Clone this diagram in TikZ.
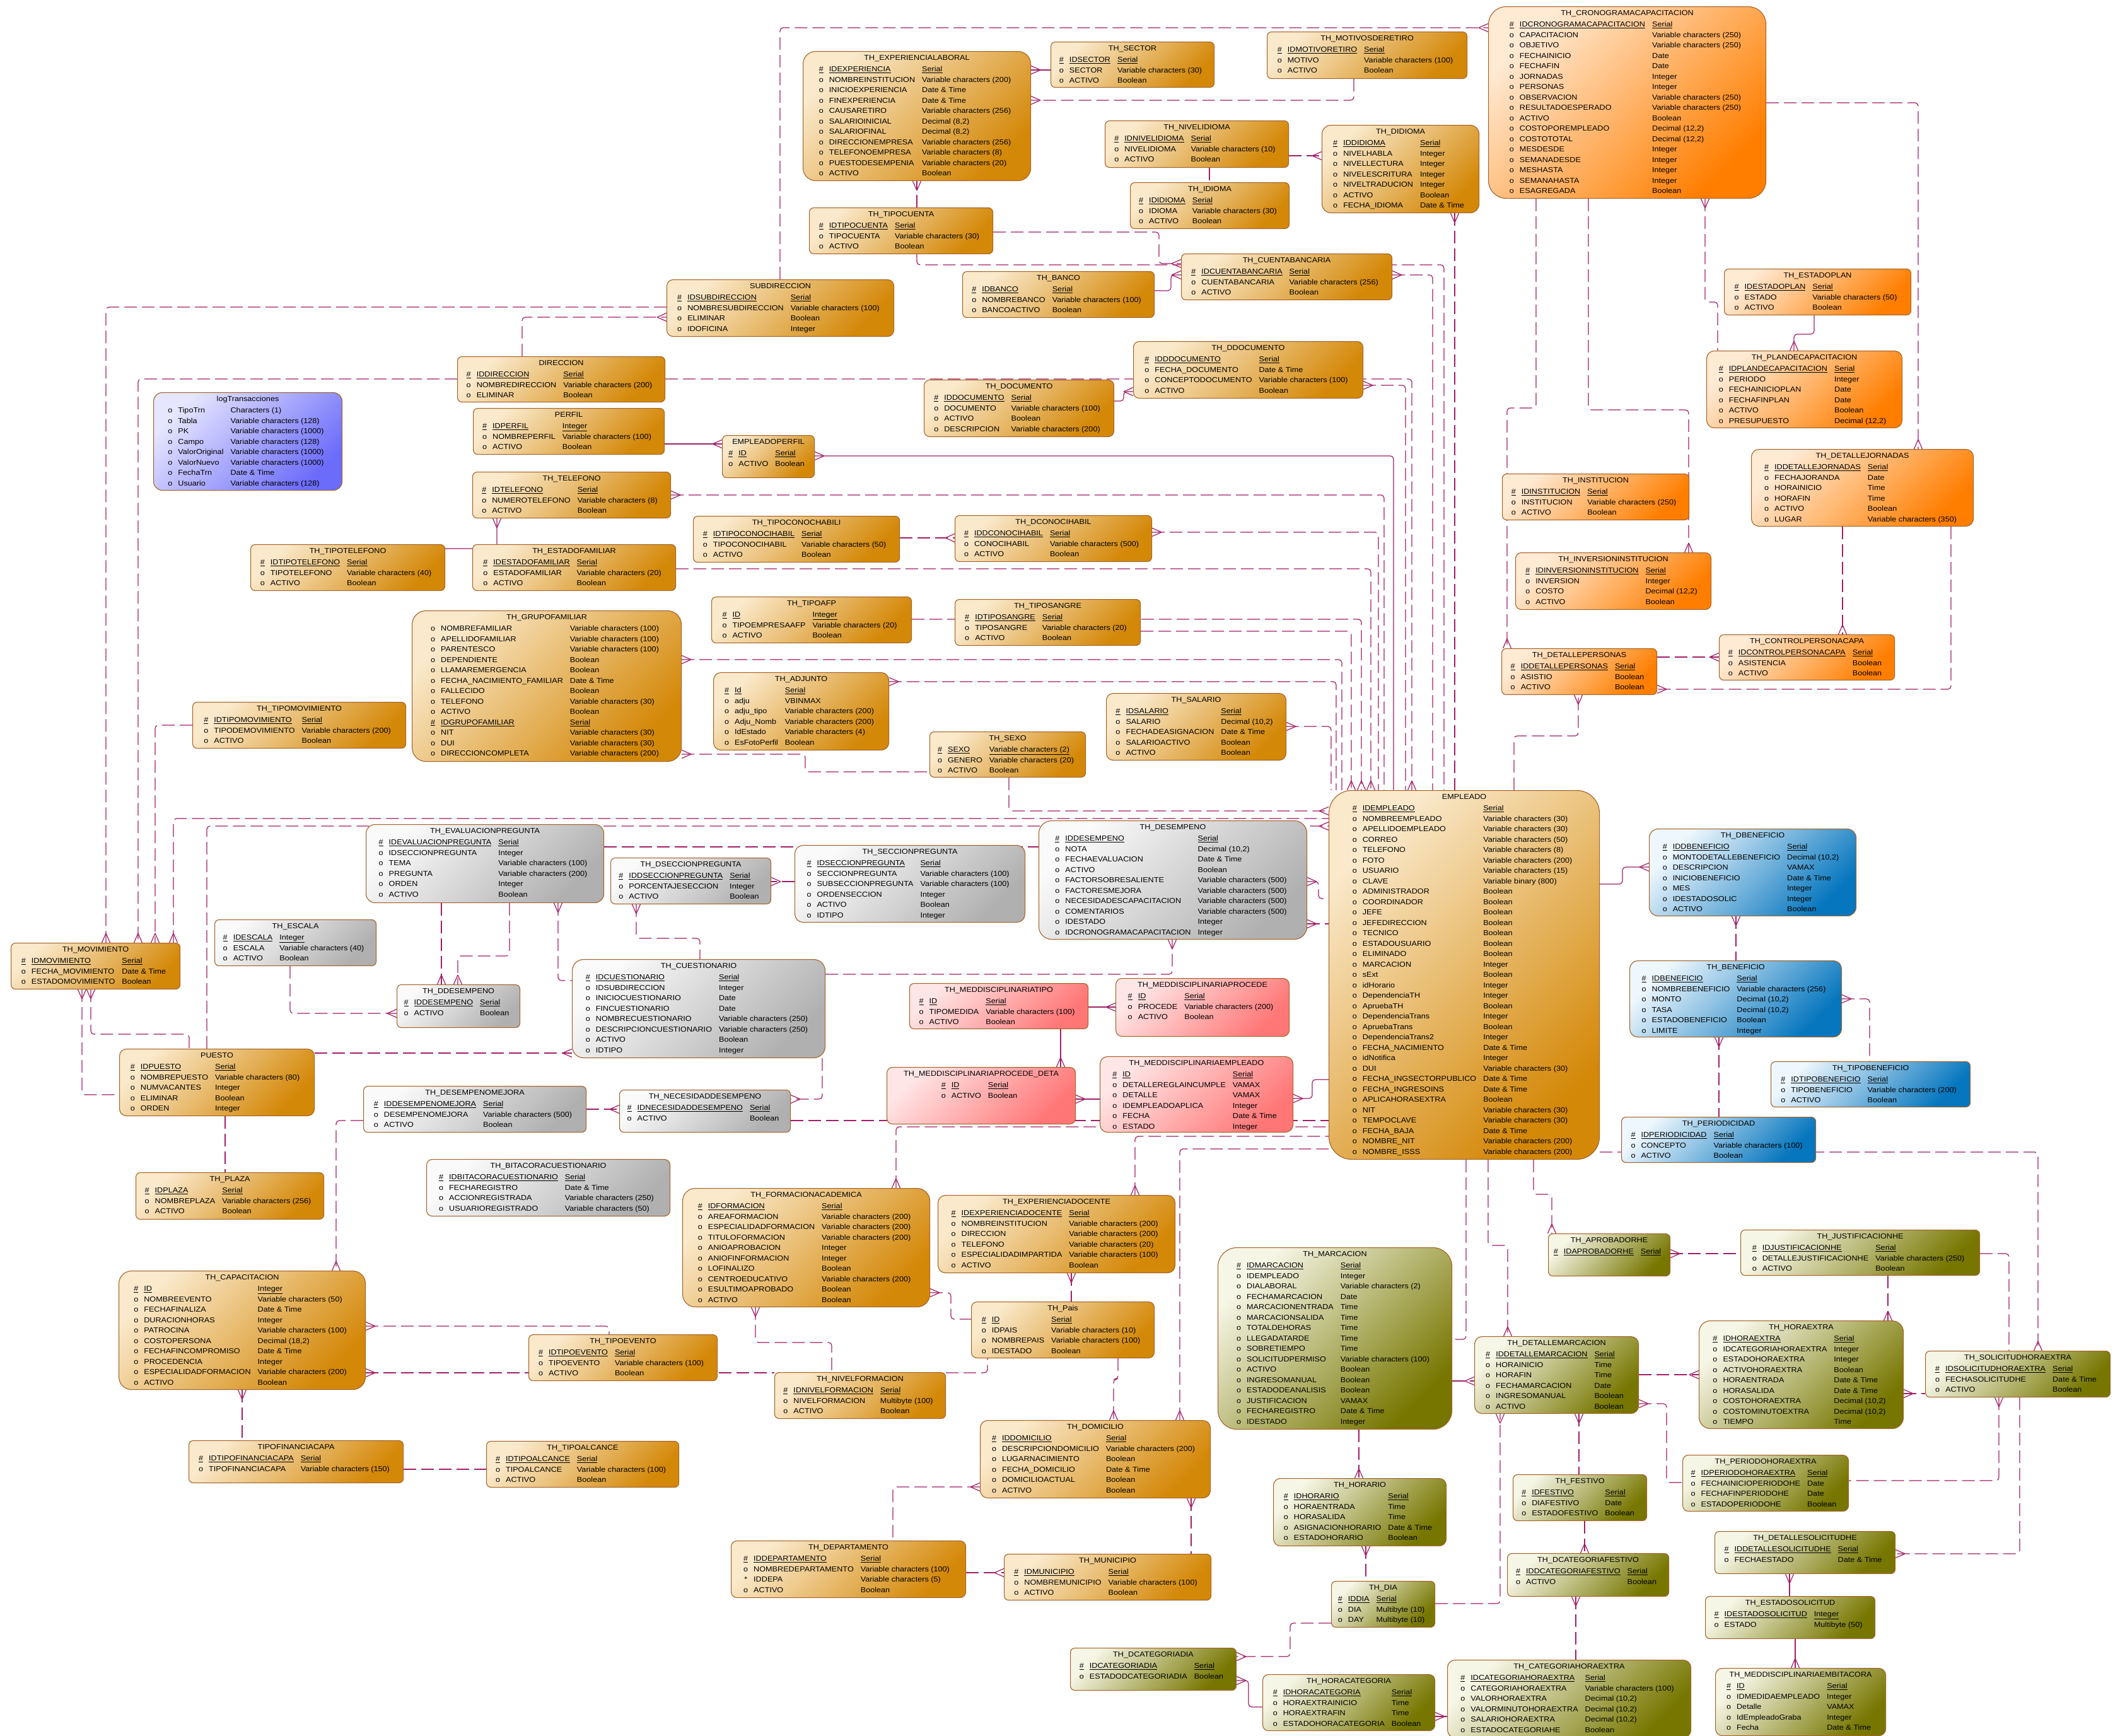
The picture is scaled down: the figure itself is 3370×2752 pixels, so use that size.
\documentclass[tikz,border=0pt]{standalone}
\usepackage{fontspec}
\setmainfont{Liberation Sans}[FakeStretch=1.1]
\usetikzlibrary{decorations.markings}
\pgfdeclarelayer{bg}
\pgfsetlayers{bg,main}

\definecolor{tanA}{RGB}{250,233,203}
\definecolor{tanB}{RGB}{212,136,8}
\definecolor{orA}{RGB}{255,234,212}
\definecolor{orB}{RGB}{255,126,0}
\definecolor{grA}{RGB}{250,250,250}
\definecolor{grB}{RGB}{176,176,176}
\definecolor{pkA}{RGB}{255,230,230}
\definecolor{pkB}{RGB}{255,118,118}
\definecolor{blA}{RGB}{238,247,253}
\definecolor{blB}{RGB}{6,118,190}
\definecolor{olA}{RGB}{246,246,230}
\definecolor{olB}{RGB}{118,118,0}
\definecolor{puA}{RGB}{230,230,255}
\definecolor{puB}{RGB}{108,108,250}
\definecolor{bordc}{RGB}{165,98,40}
\definecolor{relc}{RGB}{160,32,104}

\tikzset{
  entity/.style={draw=bordc,line width=1.1pt,inner sep=0pt,rounded corners=7pt},
  rc/.style={rounded corners=#1pt},
  tanbox/.style={top color=tanA,bottom color=tanB},
  orbox/.style={top color=orA,bottom color=orB},
  graybox/.style={top color=grA,bottom color=grB},
  pinkbox/.style={top color=pkA,bottom color=pkB},
  bluebox/.style={top color=blA,bottom color=blB},
  olivebox/.style={top color=olA,bottom color=olB},
  purpbox/.style={top color=puA,bottom color=puB},
  rel/.style={draw=relc,line width=1.2pt,dash pattern=on 20pt off 8pt,rounded corners=5pt},
  sol/.style={solid},
  cs/.style={postaction={decorate,decoration={markings,mark=at position 0 with
    {\draw[solid,relc,line width=1.2pt,rounded corners=0pt] (15pt,0pt) -- (0pt,6.5pt) (15pt,0pt) -- (0pt,-6.5pt);}}}},
  ce/.style={postaction={decorate,decoration={markings,mark=at position 1 with
    {\draw[solid,relc,line width=1.2pt,rounded corners=0pt] (-15pt,0pt) -- (0pt,6.5pt) (-15pt,0pt) -- (0pt,-6.5pt);}}}},
}

% one table: name, look, x, y, width, height, title, rows
\newcommand\enttbl[8]{%
  \node[entity,#2,shading angle=45,minimum width=#5pt,minimum height=#6pt,anchor=north west] (#1) at (#3,#4) {};
  \node[anchor=base,inner sep=0pt] at ([yshift=-14pt]#1.north) {#7};
  \node[anchor=north,inner sep=0pt] at ([xshift=-3pt,yshift=-21pt]#1.north)
    {\begin{tabular}{@{}c@{\hspace{9pt}}l@{\hspace{11pt}}l@{}}#8\end{tabular}};}
\newcommand\pkR[2]{\underline{\#} & \underline{#1} & \underline{#2}\\}
\newcommand\atR[2]{o & #1 & #2\\}
\newcommand\stR[2]{* & #1 & #2\\}
\newcommand\vcR[1]{Variable characters (#1)}
\newcommand\dtR{Date \& Time}

\begin{document}
\begin{tikzpicture}[x=1pt,y=-1pt,every node/.style={font=\fontsize{11.5}{16.5}\selectfont}]
\useasboundingbox (0,0) rectangle (3370,2752);

% ---------- top band ----------
\enttbl{explab}{tanbox,rc=20}{1273}{81}{361}{205}{TH\_EXPERIENCIALABORAL}{\pkR{IDEXPERIENCIA}{Serial}\atR{NOMBREINSTITUCION}{\vcR{200}}\atR{INICIOEXPERIENCIA}{\dtR}\atR{FINEXPERIENCIA}{\dtR}\atR{CAUSARETIRO}{\vcR{256}}\atR{SALARIOINICIAL}{Decimal (8,2)}\atR{SALARIOFINAL}{Decimal (8,2)}\atR{DIRECCIONEMPRESA}{\vcR{256}}\atR{TELEFONOEMPRESA}{\vcR{8}}\atR{PUESTODESEMPENIA}{\vcR{20}}\atR{ACTIVO}{Boolean}}
\enttbl{sector}{tanbox}{1666}{66}{259}{72}{TH\_SECTOR}{\pkR{IDSECTOR}{Serial}\atR{SECTOR}{\vcR{30}}\atR{ACTIVO}{Boolean}}
\enttbl{motivo}{tanbox}{2009}{50}{317}{74}{TH\_MOTIVOSDERETIRO}{\pkR{IDMOTIVORETIRO}{Serial}\atR{MOTIVO}{\vcR{100}}\atR{ACTIVO}{Boolean}}
\enttbl{crono}{orbox,rc=28}{2360}{10}{440}{304}{TH\_CRONOGRAMACAPACITACION}{\pkR{IDCRONOGRAMACAPACITACION}{Serial}\atR{CAPACITACION}{\vcR{250}}\atR{OBJETIVO}{\vcR{250}}\atR{FECHAINICIO}{Date}\atR{FECHAFIN}{Date}\atR{JORNADAS}{Integer}\atR{PERSONAS}{Integer}\atR{OBSERVACION}{\vcR{250}}\atR{RESULTADOESPERADO}{\vcR{250}}\atR{ACTIVO}{Boolean}\atR{COSTOPOREMPLEADO}{Decimal (12,2)}\atR{COSTOTOTAL}{Decimal (12,2)}\atR{MESDESDE}{Integer}\atR{SEMANADESDE}{Integer}\atR{MESHASTA}{Integer}\atR{SEMANAHASTA}{Integer}\atR{ESAGREGADA}{Boolean}}
\enttbl{tipocuenta}{tanbox}{1283}{329}{291}{73}{TH\_TIPOCUENTA}{\pkR{IDTIPOCUENTA}{Serial}\atR{TIPOCUENTA}{\vcR{30}}\atR{ACTIVO}{Boolean}}
\enttbl{nivelidioma}{tanbox}{1752}{191}{291}{74}{TH\_NIVELIDIOMA}{\pkR{IDNIVELIDIOMA}{Serial}\atR{NIVELIDIOMA}{\vcR{10}}\atR{ACTIVO}{Boolean}}
\enttbl{idioma}{tanbox}{1792}{289}{252}{73}{TH\_IDIOMA}{\pkR{IDIDIOMA}{Serial}\atR{IDIOMA}{\vcR{30}}\atR{ACTIVO}{Boolean}}
\enttbl{didioma}{tanbox,rc=14}{2096}{198}{249}{139}{TH\_DIDIOMA}{\pkR{IDDIDIOMA}{Serial}\atR{NIVELHABLA}{Integer}\atR{NIVELLECTURA}{Integer}\atR{NIVELESCRITURA}{Integer}\atR{NIVELTRADUCION}{Integer}\atR{ACTIVO}{Boolean}\atR{FECHA\_IDIOMA}{\dtR}}
\enttbl{cuentab}{tanbox}{1873}{402}{334}{73}{TH\_CUENTABANCARIA}{\pkR{IDCUENTABANCARIA}{Serial}\atR{CUENTABANCARIA}{\vcR{256}}\atR{ACTIVO}{Boolean}}
\enttbl{banco}{tanbox}{1526}{430}{304}{73}{TH\_BANCO}{\pkR{IDBANCO}{Serial}\atR{NOMBREBANCO}{\vcR{100}}\atR{BANCOACTIVO}{Boolean}}
\enttbl{subdir}{tanbox,rc=10}{1057}{443}{360}{90}{SUBDIRECCION}{\pkR{IDSUBDIRECCION}{Serial}\atR{NOMBRESUBDIRECCION}{\vcR{100}}\atR{ELIMINAR}{Boolean}\atR{IDOFICINA}{Integer}}
\enttbl{direccion}{tanbox}{725}{565}{329}{72}{DIRECCION}{\pkR{IDDIRECCION}{Serial}\atR{NOMBREDIRECCION}{\vcR{200}}\atR{ELIMINAR}{Boolean}}
\enttbl{logtrans}{purpbox,rc=14}{243}{622}{299}{155}{logTransacciones}{\atR{TipoTrn}{Characters (1)}\atR{Tabla}{\vcR{128}}\atR{PK}{\vcR{1000}}\atR{Campo}{\vcR{128}}\atR{ValorOriginal}{\vcR{1000}}\atR{ValorNuevo}{\vcR{1000}}\atR{FechaTrn}{\dtR}\atR{Usuario}{\vcR{128}}}
\enttbl{perfil}{tanbox}{750}{647}{303}{73}{PERFIL}{\pkR{IDPERFIL}{Integer}\atR{NOMBREPERFIL}{\vcR{100}}\atR{ACTIVO}{Boolean}}
\enttbl{documento}{tanbox,rc=9}{1465}{602}{301}{90}{TH\_DOCUMENTO}{\pkR{IDDOCUMENTO}{Serial}\atR{DOCUMENTO}{\vcR{100}}\atR{ACTIVO}{Boolean}\atR{DESCRIPCION}{\vcR{200}}}
\enttbl{ddocumento}{tanbox,rc=9}{1797}{541}{364}{90}{TH\_DDOCUMENTO}{\pkR{IDDDOCUMENTO}{Serial}\atR{FECHA\_DOCUMENTO}{\dtR}\atR{CONCEPTODOCUMENTO}{\vcR{100}}\atR{ACTIVO}{Boolean}}
\enttbl{empperfil}{tanbox}{1145}{690}{146}{67}{EMPLEADOPERFIL}{\pkR{ID}{Serial}\atR{ACTIVO}{Boolean}}
\enttbl{telefono}{tanbox}{749}{748}{314}{73}{TH\_TELEFONO}{\pkR{IDTELEFONO}{Serial}\atR{NUMEROTELEFONO}{\vcR{8}}\atR{ACTIVO}{Boolean}}
\enttbl{tipoconoc}{tanbox}{1099}{818}{327}{73}{TH\_TIPOCONOCHABILI}{\pkR{IDTIPOCONOCIHABIL}{Serial}\atR{TIPOCONOCIHABIL}{\vcR{50}}\atR{ACTIVO}{Boolean}}
\enttbl{dconoc}{tanbox}{1514}{817}{312}{73}{TH\_DCONOCIHABIL}{\pkR{IDDCONOCIHABIL}{Serial}\atR{CONOCIHABIL}{\vcR{500}}\atR{ACTIVO}{Boolean}}
\enttbl{tipotel}{tanbox}{397}{863}{308}{73}{TH\_TIPOTELEFONO}{\pkR{IDTIPOTELEFONO}{Serial}\atR{TIPOTELEFONO}{\vcR{40}}\atR{ACTIVO}{Boolean}}
\enttbl{estadofam}{tanbox}{749}{863}{322}{73}{TH\_ESTADOFAMILIAR}{\pkR{IDESTADOFAMILIAR}{Serial}\atR{ESTADOFAMILIAR}{\vcR{20}}\atR{ACTIVO}{Boolean}}

% ---------- family / personal data ----------
\enttbl{grupofam}{tanbox,rc=22}{653}{968}{427}{239}{TH\_GRUPOFAMILIAR}{\atR{NOMBREFAMILIAR}{\vcR{100}}\atR{APELLIDOFAMILIAR}{\vcR{100}}\atR{PARENTESCO}{\vcR{100}}\atR{DEPENDIENTE}{Boolean}\atR{LLAMAREMERGENCIA}{Boolean}\atR{FECHA\_NACIMIENTO\_FAMILIAR}{\dtR}\atR{FALLECIDO}{Boolean}\atR{TELEFONO}{\vcR{30}}\atR{ACTIVO}{Boolean}\pkR{IDGRUPOFAMILIAR}{Serial}\atR{NIT}{\vcR{30}}\atR{DUI}{\vcR{30}}\atR{DIRECCIONCOMPLETA}{\vcR{200}}}
\enttbl{tipoafp}{tanbox}{1128}{946}{317}{73}{TH\_TIPOAFP}{\pkR{ID}{Integer}\atR{TIPOEMPRESAAFP}{\vcR{20}}\atR{ACTIVO}{Boolean}}
\enttbl{tiposangre}{tanbox}{1514}{950}{294}{73}{TH\_TIPOSANGRE}{\pkR{IDTIPOSANGRE}{Serial}\atR{TIPOSANGRE}{\vcR{20}}\atR{ACTIVO}{Boolean}}
\enttbl{adjunto}{tanbox,rc=12}{1131}{1066}{278}{123}{TH\_ADJUNTO}{\pkR{Id}{Serial}\atR{adju}{VBINMAX}\atR{adju\_tipo}{\vcR{200}}\atR{Adju\_Nomb}{\vcR{200}}\atR{IdEstado}{\vcR{4}}\atR{EsFotoPerfil}{Boolean}}
\enttbl{sexo}{tanbox}{1474}{1160}{247}{72}{TH\_SEXO}{\pkR{SEXO}{\vcR{2}}\atR{GENERO}{\vcR{20}}\atR{ACTIVO}{Boolean}}
\enttbl{salario}{tanbox,rc=11}{1754}{1099}{285}{106}{TH\_SALARIO}{\pkR{IDSALARIO}{Serial}\atR{SALARIO}{Decimal (10,2)}\atR{FECHADEASIGNACION}{\dtR}\atR{SALARIOACTIVO}{Boolean}\atR{ACTIVO}{Boolean}}
\enttbl{tipomov}{tanbox}{305}{1113}{338}{73}{TH\_TIPOMOVIMIENTO}{\pkR{IDTIPOMOVIMIENTO}{Serial}\atR{TIPODEMOVIMIENTO}{\vcR{200}}\atR{ACTIVO}{Boolean}}

% ---------- central employee table ----------
\enttbl{empleado}{tanbox,rc=36}{2107}{1253}{429}{585}{EMPLEADO}{\pkR{IDEMPLEADO}{Serial}\atR{NOMBREEMPLEADO}{\vcR{30}}\atR{APELLIDOEMPLEADO}{\vcR{30}}\atR{CORREO}{\vcR{50}}\atR{TELEFONO}{\vcR{8}}\atR{FOTO}{\vcR{200}}\atR{USUARIO}{\vcR{15}}\atR{CLAVE}{Variable binary (800)}\atR{ADMINISTRADOR}{Boolean}\atR{COORDINADOR}{Boolean}\atR{JEFE}{Boolean}\atR{JEFEDIRECCION}{Boolean}\atR{TECNICO}{Boolean}\atR{ESTADOUSUARIO}{Boolean}\atR{ELIMINADO}{Boolean}\atR{MARCACION}{Integer}\atR{sExt}{Boolean}\atR{idHorario}{Integer}\atR{DependenciaTH}{Integer}\atR{ApruebaTH}{Boolean}\atR{DependenciaTrans}{Integer}\atR{ApruebaTrans}{Boolean}\atR{DependenciaTrans2}{Integer}\atR{FECHA\_NACIMIENTO}{\dtR}\atR{idNotifica}{Integer}\atR{DUI}{\vcR{30}}\atR{FECHA\_INGSECTORPUBLICO}{\dtR}\atR{FECHA\_INGRESOINS}{\dtR}\atR{APLICAHORASEXTRA}{Boolean}\atR{NIT}{\vcR{30}}\atR{TEMPOCLAVE}{\vcR{30}}\atR{FECHA\_BAJA}{\dtR}\atR{NOMBRE\_NIT}{\vcR{200}}\atR{NOMBRE\_ISSS}{\vcR{200}}}

% ---------- evaluation ----------
\enttbl{desempeno}{graybox,rc=20}{1647}{1301}{425}{188}{TH\_DESEMPENO}{\pkR{IDDESEMPENO}{Serial}\atR{NOTA}{Decimal (10,2)}\atR{FECHAEVALUACION}{\dtR}\atR{ACTIVO}{Boolean}\atR{FACTORSOBRESALIENTE}{\vcR{500}}\atR{FACTORESMEJORA}{\vcR{500}}\atR{NECESIDADESCAPACITACION}{\vcR{500}}\atR{COMENTARIOS}{\vcR{500}}\atR{IDESTADO}{Integer}\atR{IDCRONOGRAMACAPACITACION}{Integer}}
\enttbl{evalpreg}{graybox,rc=14}{580}{1307}{377}{124}{TH\_EVALUACIONPREGUNTA}{\pkR{IDEVALUACIONPREGUNTA}{Serial}\atR{IDSECCIONPREGUNTA}{Integer}\atR{TEMA}{\vcR{100}}\atR{PREGUNTA}{\vcR{200}}\atR{ORDEN}{Integer}\atR{ACTIVO}{Boolean}}
\enttbl{dseccion}{graybox}{968}{1360}{254}{73}{TH\_DSECCIONPREGUNTA}{\pkR{IDDSECCIONPREGUNTA}{Serial}\atR{PORCENTAJESECCION}{Integer}\atR{ACTIVO}{Boolean}}
\enttbl{seccion}{graybox,rc=13}{1260}{1340}{365}{122}{TH\_SECCIONPREGUNTA}{\pkR{IDSECCIONPREGUNTA}{Serial}\atR{SECCIONPREGUNTA}{\vcR{100}}\atR{SUBSECCIONPREGUNTA}{\vcR{100}}\atR{ORDENSECCION}{Integer}\atR{ACTIVO}{Boolean}\atR{IDTIPO}{Integer}}
\enttbl{movimiento}{tanbox}{17}{1495}{268}{73}{TH\_MOVIMIENTO}{\pkR{IDMOVIMIENTO}{Serial}\atR{FECHA\_MOVIMIENTO}{\dtR}\atR{ESTADOMOVIMIENTO}{Boolean}}
\enttbl{escala}{graybox}{340}{1458}{256}{73}{TH\_ESCALA}{\pkR{IDESCALA}{Integer}\atR{ESCALA}{\vcR{40}}\atR{ACTIVO}{Boolean}}
\enttbl{ddesempeno}{graybox}{629}{1561}{195}{68}{TH\_DDESEMPENO}{\pkR{IDDESEMPENO}{Serial}\atR{ACTIVO}{Boolean}}
\enttbl{cuestionario}{graybox,rc=18}{907}{1521}{401}{156}{TH\_CUESTIONARIO}{\pkR{IDCUESTIONARIO}{Serial}\atR{IDSUBDIRECCION}{Integer}\atR{INICIOCUESTIONARIO}{Date}\atR{FINCUESTIONARIO}{Date}\atR{NOMBRECUESTIONARIO}{\vcR{250}}\atR{DESCRIPCIONCUESTIONARIO}{\vcR{250}}\atR{ACTIVO}{Boolean}\atR{IDTIPO}{Integer}}
\enttbl{medtipo}{pinkbox}{1442}{1559}{283}{72}{TH\_MEDDISCIPLINARIATIPO}{\pkR{ID}{Serial}\atR{TIPOMEDIDA}{\vcR{100}}\atR{ACTIVO}{Boolean}}
\enttbl{procede}{pinkbox,rc=10}{1769}{1551}{275}{92}{TH\_MEDDISCIPLINARIAPROCEDE}{\pkR{ID}{Serial}\atR{PROCEDE}{\vcR{200}}\atR{ACTIVO}{Boolean}}
\enttbl{procdeta}{pinkbox,rc=9}{1406}{1692}{299}{90}{TH\_MEDDISCIPLINARIAPROCEDE\_DETA}{\pkR{ID}{Serial}\atR{ACTIVO}{Boolean}}
\enttbl{medemp}{pinkbox,rc=12}{1744}{1675}{306}{120}{TH\_MEDDISCIPLINARIAEMPLEADO}{\pkR{ID}{Serial}\atR{DETALLEREGLAINCUMPLE}{VAMAX}\atR{DETALLE}{VAMAX}\atR{IDEMPLEADOAPLICA}{Integer}\atR{FECHA}{\dtR}\atR{ESTADO}{Integer}}
\enttbl{puesto}{tanbox,rc=11}{189}{1663}{309}{106}{PUESTO}{\pkR{IDPUESTO}{Serial}\atR{NOMBREPUESTO}{\vcR{80}}\atR{NUMVACANTES}{Integer}\atR{ELIMINAR}{Boolean}\atR{ORDEN}{Integer}}
\enttbl{desmejora}{graybox}{576}{1722}{353}{73}{TH\_DESEMPENOMEJORA}{\pkR{IDDESEMPENOMEJORA}{Serial}\atR{DESEMPENOMEJORA}{\vcR{500}}\atR{ACTIVO}{Boolean}}
\enttbl{necesidad}{graybox}{982}{1728}{271}{67}{TH\_NECESIDADDESEMPENO}{\pkR{IDNECESIDADDESEMPENO}{Serial}\atR{ACTIVO}{Boolean}}
\enttbl{plaza}{tanbox}{215}{1859}{298}{74}{TH\_PLAZA}{\pkR{IDPLAZA}{Serial}\atR{NOMBREPLAZA}{\vcR{256}}\atR{ACTIVO}{Boolean}}
\enttbl{bitacora}{graybox,rc=9}{676}{1838}{386}{90}{TH\_BITACORACUESTIONARIO}{\pkR{IDBITACORACUESTIONARIO}{Serial}\atR{FECHAREGISTRO}{\dtR}\atR{ACCIONREGISTRADA}{\vcR{250}}\atR{USUARIOREGISTRADO}{\vcR{50}}}

% ---------- training / education ----------
\enttbl{capacitacion}{tanbox,rc=20}{188}{2015}{391}{188}{TH\_CAPACITACION}{\pkR{ID}{Integer}\atR{NOMBREEVENTO}{\vcR{50}}\atR{FECHAFINALIZA}{\dtR}\atR{DURACIONHORAS}{Integer}\atR{PATROCINA}{\vcR{100}}\atR{COSTOPERSONA}{Decimal (18,2)}\atR{FECHAFINCOMPROMISO}{\dtR}\atR{PROCEDENCIA}{Integer}\atR{ESPECIALIDADFORMACION}{\vcR{200}}\atR{ACTIVO}{Boolean}}
\enttbl{tipofin}{tanbox}{299}{2284}{340}{67}{TIPOFINANCIACAPA}{\pkR{IDTIPOFINANCIACAPA}{Serial}\atR{TIPOFINANCIACAPA}{\vcR{150}}}
\enttbl{tipoalcance}{tanbox}{771}{2285}{305}{73}{TH\_TIPOALCANCE}{\pkR{IDTIPOALCANCE}{Serial}\atR{TIPOALCANCE}{\vcR{100}}\atR{ACTIVO}{Boolean}}
\enttbl{formacion}{tanbox,rc=20}{1082}{1884}{392}{188}{TH\_FORMACIONACADEMICA}{\pkR{IDFORMACION}{Serial}\atR{AREAFORMACION}{\vcR{200}}\atR{ESPECIALIDADFORMACION}{\vcR{200}}\atR{TITULOFORMACION}{\vcR{200}}\atR{ANIOAPROBACION}{Integer}\atR{ANIOFINFORMACION}{Integer}\atR{LOFINALIZO}{Boolean}\atR{CENTROEDUCATIVO}{\vcR{200}}\atR{ESULTIMOAPROBADO}{Boolean}\atR{ACTIVO}{Boolean}}
\enttbl{expdocente}{tanbox,rc=12}{1487}{1895}{376}{123}{TH\_EXPERIENCIADOCENTE}{\pkR{IDEXPERIENCIADOCENTE}{Serial}\atR{NOMBREINSTITUCION}{\vcR{200}}\atR{DIRECCION}{\vcR{200}}\atR{TELEFONO}{\vcR{20}}\atR{ESPECIALIDADIMPARTIDA}{\vcR{100}}\atR{ACTIVO}{Boolean}}
\enttbl{tipoevento}{tanbox}{838}{2116}{299}{73}{TH\_TIPOEVENTO}{\pkR{IDTIPOEVENTO}{Serial}\atR{TIPOEVENTO}{\vcR{100}}\atR{ACTIVO}{Boolean}}
\enttbl{pais}{tanbox,rc=9}{1540}{2064}{290}{89}{TH\_Pais}{\pkR{ID}{Serial}\atR{IDPAIS}{\vcR{10}}\atR{NOMBREPAIS}{\vcR{100}}\atR{IDESTADO}{Boolean}}
\enttbl{nivelform}{tanbox}{1228}{2176}{271}{73}{TH\_NIVELFORMACION}{\pkR{IDNIVELFORMACION}{Serial}\atR{NIVELFORMACION}{Multibyte (100)}\atR{ACTIVO}{Boolean}}
\enttbl{domicilio}{tanbox,rc=12}{1554}{2252}{365}{123}{TH\_DOMICILIO}{\pkR{IDDOMICILIO}{Serial}\atR{DESCRIPCIONDOMICILIO}{\vcR{200}}\atR{LUGARNACIMIENTO}{Boolean}\atR{FECHA\_DOMICILIO}{\dtR}\atR{DOMICILIOACTUAL}{Boolean}\atR{ACTIVO}{Boolean}}
\enttbl{departamento}{tanbox,rc=9}{1159}{2443}{372}{90}{TH\_DEPARTAMENTO}{\pkR{IDDEPARTAMENTO}{Serial}\atR{NOMBREDEPARTAMENTO}{\vcR{100}}\stR{IDDEPA}{\vcR{5}}\atR{ACTIVO}{Boolean}}
\enttbl{municipio}{tanbox}{1592}{2464}{328}{73}{TH\_MUNICIPIO}{\pkR{IDMUNICIPIO}{Serial}\atR{NOMBREMUNICIPIO}{\vcR{100}}\atR{ACTIVO}{Boolean}}

% ---------- attendance / overtime ----------
\enttbl{marcacion}{olivebox,rc=30}{1931}{1978}{371}{288}{TH\_MARCACION}{\pkR{IDMARCACION}{Serial}\atR{IDEMPLEADO}{Integer}\atR{DIALABORAL}{\vcR{2}}\atR{FECHAMARCACION}{Date}\atR{MARCACIONENTRADA}{Time}\atR{MARCACIONSALIDA}{Time}\atR{TOTALDEHORAS}{Time}\atR{LLEGADATARDE}{Time}\atR{SOBRETIEMPO}{Time}\atR{SOLICITUDPERMISO}{\vcR{100}}\atR{ACTIVO}{Boolean}\atR{INGRESOMANUAL}{Boolean}\atR{ESTADODEANALISIS}{Boolean}\atR{JUSTIFICACION}{VAMAX}\atR{FECHAREGISTRO}{\dtR}\atR{IDESTADO}{Integer}}
\enttbl{horario}{olivebox,rc=11}{2019}{2344}{274}{107}{TH\_HORARIO}{\pkR{IDHORARIO}{Serial}\atR{HORAENTRADA}{Time}\atR{HORASALIDA}{Time}\atR{ASIGNACIONHORARIO}{\dtR}\atR{ESTADOHORARIO}{Boolean}}
\enttbl{dia}{olivebox}{2111}{2507}{164}{73}{TH\_DIA}{\pkR{IDDIA}{Serial}\atR{DIA}{Multibyte (10)}\atR{DAY}{Multibyte (10)}}
\enttbl{dcatdia}{olivebox}{1697}{2613}{263}{67}{TH\_DCATEGORIADIA}{\pkR{IDCATEGORIADIA}{Serial}\atR{ESTADODCATEGORIADIA}{Boolean}}
\enttbl{horacat}{olivebox,rc=9}{2002}{2655}{273}{89}{TH\_HORACATEGORIA}{\pkR{IDHORACATEGORIA}{Serial}\atR{HORAEXTRAINICIO}{Time}\atR{HORAEXTRAFIN}{Time}\atR{ESTADOHORACATEGORIA}{Boolean}}
\enttbl{cathe}{olivebox,rc=12}{2295}{2632}{386}{123}{TH\_CATEGORIAHORAEXTRA}{\pkR{IDCATEGORIAHORAEXTRA}{Serial}\atR{CATEGORIAHORAEXTRA}{\vcR{100}}\atR{VALORHORAEXTRA}{Decimal (10,2)}\atR{VALORMINUTOHORAEXTRA}{Decimal (10,2)}\atR{SALARIOHORAEXTRA}{Decimal (10,2)}\atR{ESTADOCATEGORIAHE}{Boolean}}
\enttbl{detmarc}{olivebox,rc=12}{2338}{2119}{260}{122}{TH\_DETALLEMARCACION}{\pkR{IDDETALLEMARCACION}{Serial}\atR{HORAINICIO}{Time}\atR{HORAFIN}{Time}\atR{FECHAMARCACION}{Date}\atR{INGRESOMANUAL}{Boolean}\atR{ACTIVO}{Boolean}}
\enttbl{aprobador}{olivebox}{2455}{1956}{193}{67}{TH\_APROBADORHE}{\pkR{IDAPROBADORHE}{Serial}}
\enttbl{festivo}{olivebox}{2399}{2338}{212}{73}{TH\_FESTIVO}{\pkR{IDFESTIVO}{Serial}\atR{DIAFESTIVO}{Date}\atR{ESTADOFESTIVO}{Boolean}}
\enttbl{dcatfest}{olivebox}{2390}{2463}{256}{68}{TH\_DCATEGORIAFESTIVO}{\pkR{IDDCATEGORIAFESTIVO}{Serial}\atR{ACTIVO}{Boolean}}
\enttbl{justif}{olivebox}{2760}{1950}{379}{72}{TH\_JUSTIFICACIONHE}{\pkR{IDJUSTIFICACIONHE}{Serial}\atR{DETALLEJUSTIFICACIONHE}{\vcR{250}}\atR{ACTIVO}{Boolean}}
\enttbl{horaextra}{olivebox,rc=18}{2694}{2094}{324}{171}{TH\_HORAEXTRA}{\pkR{IDHORAEXTRA}{Serial}\atR{IDCATEGORIAHORAEXTRA}{Integer}\atR{ESTADOHORAEXTRA}{Integer}\atR{ACTIVOHORAEXTRA}{Boolean}\atR{HORAENTRADA}{\dtR}\atR{HORASALIDA}{\dtR}\atR{COSTOHORAEXTRA}{Decimal (10,2)}\atR{COSTOMINUTOEXTRA}{Decimal (10,2)}\atR{TIEMPO}{Time}}
\enttbl{solicitud}{olivebox}{3053}{2142}{293}{73}{TH\_SOLICITUDHORAEXTRA}{\pkR{IDSOLICITUDHORAEXTRA}{Serial}\atR{FECHASOLICITUDHE}{\dtR}\atR{ACTIVO}{Boolean}}
\enttbl{periodohe}{olivebox,rc=9}{2668}{2307}{263}{89}{TH\_PERIODOHORAEXTRA}{\pkR{IDPERIODOHORAEXTRA}{Serial}\atR{FECHAINICIOPERIODOHE}{Date}\atR{FECHAFINPERIODOHE}{Date}\atR{ESTADOPERIODOHE}{Boolean}}
\enttbl{detsol}{olivebox}{2719}{2428}{286}{67}{TH\_DETALLESOLICITUDHE}{\pkR{IDDETALLESOLICITUDHE}{Serial}\atR{FECHAESTADO}{\dtR}}
\enttbl{estadosol}{olivebox}{2704}{2531}{269}{67}{TH\_ESTADOSOLICITUD}{\pkR{IDESTADOSOLICITUD}{Integer}\atR{ESTADO}{Multibyte (50)}}
\enttbl{medbitacora}{olivebox,rc=11}{2720}{2645}{270}{107}{TH\_MEDDISCIPLINARIAEMBITACORA}{\pkR{ID}{Serial}\atR{IDMEDIDAEMPLEADO}{Integer}\atR{Detalle}{VAMAX}\atR{IdEmpleadoGraba}{Integer}\atR{Fecha}{\dtR}}

% ---------- benefits ----------
\enttbl{dbeneficio}{bluebox,rc=14}{2615}{1314}{328}{138}{TH\_DBENEFICIO}{\pkR{IDDBENEFICIO}{Serial}\atR{MONTODETALLEBENEFICIO}{Decimal (10,2)}\atR{DESCRIPCION}{VAMAX}\atR{INICIOBENEFICIO}{\dtR}\atR{MES}{Integer}\atR{IDESTADOSOLIC}{Integer}\atR{ACTIVO}{Boolean}}
\enttbl{beneficio}{bluebox,rc=13}{2584}{1523}{336}{121}{TH\_BENEFICIO}{\pkR{IDBENEFICIO}{Serial}\atR{NOMBREBENEFICIO}{\vcR{256}}\atR{MONTO}{Decimal (10,2)}\atR{TASA}{Decimal (10,2)}\atR{ESTADOBENEFICIO}{Boolean}\atR{LIMITE}{Integer}}
\enttbl{tipobeneficio}{bluebox}{2808}{1683}{316}{72}{TH\_TIPOBENEFICIO}{\pkR{IDTIPOBENEFICIO}{Serial}\atR{TIPOBENEFICIO}{\vcR{200}}\atR{ACTIVO}{Boolean}}
\enttbl{periodicidad}{bluebox}{2571}{1771}{308}{72}{TH\_PERIODICIDAD}{\pkR{IDPERIODICIDAD}{Serial}\atR{CONCEPTO}{\vcR{100}}\atR{ACTIVO}{Boolean}}

% ---------- training plan ----------
\enttbl{estadoplan}{orbox}{2734}{426}{296}{73}{TH\_ESTADOPLAN}{\pkR{IDESTADOPLAN}{Serial}\atR{ESTADO}{\vcR{50}}\atR{ACTIVO}{Boolean}}
\enttbl{plancap}{orbox,rc=12}{2706}{556}{310}{122}{TH\_PLANDECAPACITACION}{\pkR{IDPLANDECAPACITACION}{Serial}\atR{PERIODO}{Integer}\atR{FECHAINICIOPLAN}{Date}\atR{FECHAFINPLAN}{Date}\atR{ACTIVO}{Boolean}\atR{PRESUPUESTO}{Decimal (12,2)}}
\enttbl{detjornadas}{orbox,rc=12}{2777}{712}{352}{122}{TH\_DETALLEJORNADAS}{\pkR{IDDETALLEJORNADAS}{Serial}\atR{FECHAJORANDA}{Date}\atR{HORAINICIO}{Time}\atR{HORAFIN}{Time}\atR{ACTIVO}{Boolean}\atR{LUGAR}{\vcR{350}}}
\enttbl{institucion}{orbox}{2382}{751}{296}{73}{TH\_INSTITUCION}{\pkR{IDINSTITUCION}{Serial}\atR{INSTITUCION}{\vcR{250}}\atR{ACTIVO}{Boolean}}
\enttbl{inversion}{orbox,rc=9}{2403}{876}{310}{90}{TH\_INVERSIONINSTITUCION}{\pkR{IDINVERSIONINSTITUCION}{Serial}\atR{INVERSION}{Integer}\atR{COSTO}{Decimal (12,2)}\atR{ACTIVO}{Boolean}}
\enttbl{detpersonas}{orbox}{2381}{1028}{246}{73}{TH\_DETALLEPERSONAS}{\pkR{IDDETALLEPERSONAS}{Serial}\atR{ASISTIO}{Boolean}\atR{ACTIVO}{Boolean}}
\enttbl{controlpers}{orbox}{2726}{1006}{278}{72}{TH\_CONTROLPERSONACAPA}{\pkR{IDCONTROLPERSONACAPA}{Serial}\atR{ASISTENCIA}{Boolean}\atR{ACTIVO}{Boolean}}

% ---------- relationships (behind the tables) ----------
\begin{pgfonlayer}{bg}
\fill[white] (0,0) rectangle (3370,2752);
% upper area
\draw[rel,ce] (1237,0 |- subdir.north) -- (1237,44) -- (crono.west |- 0,44);
\draw[rel,ce] (subdir.west |- 0,487) -- (168,487) -- (168,0 |- movimiento.north);
\draw[rel,ce] (direccion.west |- 0,601) -- (219,601) -- (219,0 |- movimiento.north);
\draw[rel,ce] (828,0 |- direccion.north) -- (828,503) -- (subdir.west |- 0,503);
\draw[rel,ce] (direccion.east |- 0,601) -- (2239,601) -- (2239,0 |- empleado.north);
\draw[rel,sol,cs] (explab.east |- 0,111) -- (sector.west |- 0,111);
\draw[rel,ce] (2147,0 |- motivo.south) -- (2147,159) -- (explab.east |- 0,159);
\draw[rel,ce] (1454,0 |- tipocuenta.north) -- (1454,0 |- explab.south);
\draw[rel,ce] (tipocuenta.east |- 0,368) -- (1838,368) -- (1838,418) -- (cuentab.west |- 0,418);
\draw[rel,sol,ce] (banco.east |- 0,461) -- (1857,461) -- (1857,436) -- (cuentab.west |- 0,436);
\draw[rel,ce] (nivelidioma.east |- 0,247) -- (didioma.west |- 0,247);
\draw[rel] (1918,0 |- nivelidioma.south) -- (1918,0 |- idioma.north);
\draw[rel,cs] (2307,0 |- didioma.south) -- (2307,0 |- empleado.north);
\draw[rel] (1454,0 |- tipocuenta.south) -- (1454,420) -- (2290,420) -- (2290,0 |- empleado.north);
\draw[rel,cs] (cuentab.east |- 0,436) -- (2272,436) -- (2272,0 |- empleado.north);
\draw[rel,cs] (ddocumento.east |- 0,611) -- (2229,611) -- (2229,0 |- empleado.north);
\draw[rel,sol,ce] (documento.east |- 0,636) -- (1782,636) -- (1782,621) -- (ddocumento.west |- 0,621);
\draw[rel,sol,ce] (perfil.east |- 0,704) -- (empperfil.west |- 0,704);
\draw[rel,sol,cs] (empperfil.east |- 0,723) -- (2210,723) -- (2210,0 |- empleado.north);
\draw[rel,cs] (telefono.east |- 0,785) -- (2195,785) -- (2195,0 |- empleado.north);
\draw[rel,sol,ce] (tipotel.east |- 0,870) -- (788,870) -- (788,0 |- telefono.south);
\draw[rel,ce] (tipoconoc.east |- 0,853) -- (dconoc.west |- 0,853);
\draw[rel,cs] (dconoc.east |- 0,844) -- (2186,844) -- (2186,0 |- empleado.north);
\draw[rel,ce] (estadofam.east |- 0,902) -- (2174,902) -- (2174,0 |- empleado.north);
\draw[rel,cs] (grupofam.east |- 0,1046) -- (2128,1046) -- (2128,0 |- empleado.north);
\draw[rel,ce] (tipoafp.east |- 0,982) -- (2159,982) -- (2159,0 |- empleado.north);
\draw[rel,ce] (tiposangre.east |- 0,1001) -- (2143,1001) -- (2143,0 |- empleado.north);
\draw[rel,cs] (adjunto.east |- 0,1081) -- (2119,1081) -- (2119,0 |- empleado.north);
\draw[rel,cs] (grupofam.east |- 0,1196) -- (1277,1196) -- (1277,1224) -- (sexo.west |- 0,1224);
\draw[rel,ce] (1600,0 |- sexo.south) -- (1600,1286) -- (empleado.west |- 0,1286);
\draw[rel,cs] (salario.east |- 0,1152) -- (2111,1152) -- (2111,0 |- empleado.north);
% left / evaluation area
\draw[rel,cs] (275,0 |- movimiento.north) -- (275,1298) -- (empleado.west |- 0,1298);
\draw[rel,ce] (328,0 |- puesto.north) -- (328,1310) -- (empleado.west |- 0,1310);
\draw[rel,ce] (tipomov.west |- 0,1150) -- (246,1150) -- (246,0 |- movimiento.north);
\draw[rel,cs] (130,0 |- movimiento.south) -- (130,1736) -- (puesto.west |- 0,1736);
\draw[rel,cs] (144,0 |- movimiento.south) -- (144,1640) -- (300,1640) -- (300,0 |- puesto.north);
\draw[rel,ce] (700,0 |- evalpreg.south) -- (700,0 |- ddesempeno.north);
\draw[rel,ce] (808,0 |- evalpreg.south) -- (808,1516) -- (726,1516) -- (726,0 |- ddesempeno.north);
\draw[rel,ce] (460,0 |- escala.south) -- (460,1607) -- (ddesempeno.west |- 0,1607);
\draw[rel,cs] (885,0 |- evalpreg.south) -- (885,1555) -- (cuestionario.west |- 0,1555);
\draw[rel,cs] (1009,0 |- dseccion.south) -- (1009,1488) -- (1110,1488) -- (1110,0 |- cuestionario.north);
\draw[rel,ce] (seccion.west |- 0,1398) -- (dseccion.east |- 0,1398);
\draw[rel] (evalpreg.east |- 0,1343) -- (desempeno.west |- 0,1343);
\draw[rel,cs] (desempeno.east |- 0,1398) -- (2091,1398) -- (2091,1425) -- (empleado.west |- 0,1425);
\draw[rel,cs] (desempeno.east |- 0,1465) -- (empleado.west |- 0,1465);
\draw[rel,ce] (cuestionario.east |- 0,1545) -- (1859,1545) -- (1859,0 |- desempeno.south);
\draw[rel,ce] (1304,0 |- cuestionario.south) -- (1304,1743) -- (necesidad.east |- 0,1743);
\draw[rel,ce] (desmejora.east |- 0,1759) -- (necesidad.west |- 0,1759);
\draw[rel,ce] (puesto.east |- 0,1670) -- (cuestionario.west |- 0,1670);
\draw[rel] (357,0 |- puesto.south) -- (357,0 |- plaza.north);
\draw[rel,ce] (desmejora.west |- 0,1777) -- (533,1777) -- (533,0 |- capacitacion.north);
\draw[rel] (necesidad.east |- 0,1777) -- (empleado.west |- 0,1777);
\draw[rel,cs] (1421,0 |- formacion.north) -- (1421,1787) -- (empleado.west |- 0,1787);
\draw[rel,cs] (1800,0 |- expdocente.north) -- (1800,1802) -- (empleado.west |- 0,1802);
\draw[rel,cs] (1871,0 |- domicilio.north) -- (1871,1822) -- (empleado.west |- 0,1822);
\draw[rel,sol,ce] (medtipo.east |- 0,1597) -- (procede.west |- 0,1597);
\draw[rel,sol,ce] (1682,0 |- medtipo.south) -- (1682,0 |- procdeta.north);
\draw[rel,sol,cs] (procdeta.east |- 0,1743) -- (medemp.west |- 0,1743);
\draw[rel,sol,cs] (medemp.east |- 0,1742) -- (2081,1742) -- (2081,1712) -- (empleado.west |- 0,1712);
% lower left area
\draw[rel,cs] (capacitacion.east |- 0,2103) -- (966,2103) -- (966,0 |- tipoevento.north);
\draw[rel,cs] (capacitacion.east |- 0,2177) -- (nivelform.west |- 0,2177);
\draw[rel] (nivelform.east |- 0,2177) -- (1566,2177) -- (1566,0 |- pais.south);
\draw[rel,cs] (384,0 |- capacitacion.south) -- (384,0 |- tipofin.north);
\draw[rel] (tipofin.east |- 0,2330) -- (tipoalcance.west |- 0,2330);
\draw[rel,cs] (1198,0 |- formacion.south) -- (1198,2129) -- (1319,2129) -- (1319,0 |- nivelform.north);
\draw[rel,cs] (formacion.east |- 0,2050) -- (1508,2050) -- (1508,2092) -- (pais.west |- 0,2092);
\draw[rel,cs] (1699,0 |- expdocente.south) -- (1699,0 |- pais.north);
\draw[rel,ce] (1773,0 |- pais.south) -- (1773,2187) -- (1766,2187) -- (1766,0 |- domicilio.north);
\draw[rel,cs] (1889,0 |- domicilio.south) -- (1889,0 |- municipio.north);
\draw[rel,cs] (domicilio.west |- 0,2358) -- (1416,2358) -- (1416,0 |- departamento.north);
\draw[rel,ce] (departamento.east |- 0,2494) -- (municipio.west |- 0,2494);
% attendance and overtime
\draw[rel] (2325,0 |- empleado.south) -- (2325,2124) -- (marcacion.east |- 0,2124);
\draw[rel,ce] (2360,0 |- empleado.south) -- (2360,1975) -- (2391,1975) -- (2391,0 |- detmarc.north);
\draw[rel,ce] (2432,0 |- empleado.south) -- (2432,1894) -- (2461,1894) -- (2461,0 |- aprobador.north);
\draw[rel,ce] (marcacion.east |- 0,2190) -- (detmarc.west |- 0,2190);
\draw[rel,ce] (2155,0 |- marcacion.south) -- (2155,0 |- horario.north);
\draw[rel,cs] (2166,0 |- horario.south) -- (2166,0 |- dia.north);
\draw[rel,ce] (dia.east |- 0,2543) -- (2379,2543) -- (2379,0 |- detmarc.south);
\draw[rel,ce] (dia.west |- 0,2574) -- (2046,2574) -- (2046,2627) -- (dcatdia.east |- 0,2627);
\draw[rel,sol,cs] (dcatdia.east |- 0,2665) -- (1980,2665) -- (1980,2707) -- (horacat.west |- 0,2707);
\draw[rel,sol,cs] (horacat.east |- 0,2722) -- (cathe.west |- 0,2722);
\draw[rel,cs] (2499,0 |- dcatfest.south) -- (2499,0 |- cathe.north);
\draw[rel,ce] (2513,0 |- festivo.south) -- (2513,0 |- dcatfest.north);
\draw[rel,cs] (2504,0 |- detmarc.south) -- (2504,0 |- festivo.north);
\draw[rel,ce] (detmarc.east |- 0,2180) -- (horaextra.west |- 0,2180);
\draw[rel,cs] (detmarc.east |- 0,2226) -- (2643,2226) -- (2643,2351) -- (periodohe.west |- 0,2351);
\draw[rel,cs] (aprobador.east |- 0,1988) -- (justif.west |- 0,1988);
\draw[rel,ce] (2994,0 |- justif.south) -- (2994,0 |- horaextra.north);
\draw[rel] (justif.east |- 0,1988) -- (3186,1988) -- (3186,0 |- solicitud.north);
\draw[rel,cs] (horaextra.east |- 0,2210) -- (solicitud.west |- 0,2210);
\draw[rel,ce] (empleado.east |- 0,1827) -- (3232,1827) -- (3232,0 |- solicitud.north);
\draw[rel,cs] (3170,0 |- solicitud.south) -- (3170,2348) -- (periodohe.east |- 0,2348);
\draw[rel,ce] (3203,0 |- solicitud.south) -- (3203,2464) -- (detsol.east |- 0,2464);
\draw[rel,sol,cs] (2838,0 |- detsol.south) -- (2838,0 |- estadosol.north);
\draw[rel,sol,ce] (2847,0 |- estadosol.south) -- (2847,0 |- medbitacora.north);
% benefits
\draw[rel,sol,ce] (empleado.east |- 0,1402) -- (2573,1402) -- (2573,1375) -- (dbeneficio.west |- 0,1375);
\draw[rel,cs] (2753,0 |- dbeneficio.south) -- (2753,0 |- beneficio.north);
\draw[rel,cs] (beneficio.east |- 0,1584) -- (2965,1584) -- (2965,0 |- tipobeneficio.north);
\draw[rel,cs] (2726,0 |- beneficio.south) -- (2726,0 |- periodicidad.north);
% training plan
\draw[rel,ce] (crono.east |- 0,163) -- (3042,163) -- (3042,0 |- detjornadas.north);
\draw[rel,cs] (2704,0 |- crono.south) -- (2704,479) -- (2724,479) -- (2724,0 |- plancap.north);
\draw[rel,sol,ce] (2877,0 |- estadoplan.south) -- (2877,530) -- (2845,530) -- (2845,0 |- plancap.north);
\draw[rel,ce] (2436,0 |- crono.south) -- (2436,647) -- (2390,647) -- (2390,0 |- detpersonas.north);
\draw[rel,ce] (2519,0 |- crono.south) -- (2519,650) -- (2678,650) -- (2678,0 |- inversion.north);
\draw[rel,ce] (2922,0 |- detjornadas.south) -- (2922,0 |- controlpers.north);
\draw[rel,ce] (3094,0 |- detjornadas.south) -- (3094,1093) -- (detpersonas.east |- 0,1093);
\draw[rel,ce] (detpersonas.east |- 0,1042) -- (controlpers.west |- 0,1042);
\draw[rel,ce] (2401,0 |- empleado.north) -- (2401,1167) -- (2503,1167) -- (2503,0 |- detpersonas.south);
\end{pgfonlayer}
\end{tikzpicture}
\end{document}
